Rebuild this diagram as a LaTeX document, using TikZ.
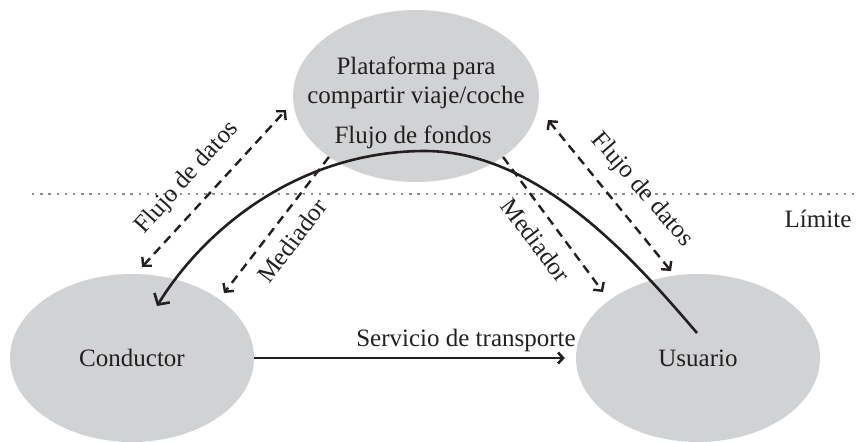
\documentclass[tikz,border=0pt]{standalone}
\usepackage{fontspec}
\setmainfont{Liberation Serif}
\usetikzlibrary{shapes.geometric,arrows.meta}
\definecolor{blobgray}{RGB}{209,210,212}
\definecolor{ink}{RGB}{35,31,32}
\definecolor{dotgray}{RGB}{140,140,140}
\begin{document}
\begin{tikzpicture}[x=1pt,y=-1pt,
  bigfont/.style={font=\fontsize{25}{29}\selectfont},
  blob/.style={ellipse,fill=blobgray,inner sep=0pt,bigfont,text=ink},
  txt/.style={bigfont,inner sep=0pt,align=center,text=ink},
  dasharrow/.style={draw=ink,line width=2.4pt,dash pattern=on 9pt off 6pt},
  solidarrow/.style={draw=ink,line width=2.6pt},
  boundary/.style={draw=dotgray,line width=2.4pt,dash pattern=on 2.4pt off 5.8pt}
]
\useasboundingbox (0,0) rectangle (860,442);

% boundary line
\coordinate (dotA) at (32,194);
\coordinate (dotB) at (860,194);
\draw[boundary] (dotA) -- (dotB);
\node[txt] (limite) at (818,219) {Límite};

% ellipses
\node[blob,minimum width=246pt,minimum height=172pt] (plat) at (416,96) {};
\node[txt] (plattext) at (416,83) {Plataforma para\\compartir viaje/coche};
\node[txt] (fondos) at (413,137) {Flujo de fondos};
\node[blob,minimum width=244pt,minimum height=168pt] (cond) at (132,358) {Conductor};
\node[blob,minimum width=244pt,minimum height=168pt] (usu) at (698,358) {Usuario};

% free ends of the dashed connectors
\coordinate (fdL1) at (286,110);
\coordinate (fdL2) at (142,267);
\coordinate (mdL) at (224,293);
\coordinate (mdR) at (603,292);
\coordinate (fdR1) at (548,120);
\coordinate (fdR2) at (671,271);

% dashed connectors
\draw[dasharrow,{Straight Barb[length=6pt,width=13pt]}-{Straight Barb[length=6pt,width=13pt]}] (fdL2) -- (fdL1);
\draw[dasharrow,-{Straight Barb[length=6pt,width=13pt]}] (plat.215) -- (mdL);
\draw[dasharrow,-{Straight Barb[length=6pt,width=13pt]}] (plat.325) -- (mdR);
\draw[dasharrow,{Straight Barb[length=6pt,width=13pt]}-{Straight Barb[length=6pt,width=13pt]}] (fdR1) -- (fdR2);

% labels of dashed connectors
\node[txt,rotate=48] (fdLlab) at (187,178) {Flujo de datos};
\node[txt,rotate=53] (mdLlab) at (292,241) {Mediador};
\node[txt,rotate=-53] (mdRlab) at (536,240) {Mediador};
\node[txt,rotate=-49] (fdRlab) at (642,190) {Flujo de datos};

% flow of funds arc
\draw[solidarrow,-{Straight Barb[length=8pt,width=18pt]}]
  ([shift={(-1,-25)}]usu.center) .. controls (637,263) and (540,151) .. (425,151)
  .. controls (300,151) and (205,228) .. ([shift={(25,-52)}]cond.center);

% transport service
\draw[solidarrow,-{Straight Barb[length=5pt,width=11pt]}] (cond.east) -- ([xshift=-11pt]usu.west);
\node[txt] (serv) at (466,340) {Servicio de transporte};
\end{tikzpicture}
\end{document}
